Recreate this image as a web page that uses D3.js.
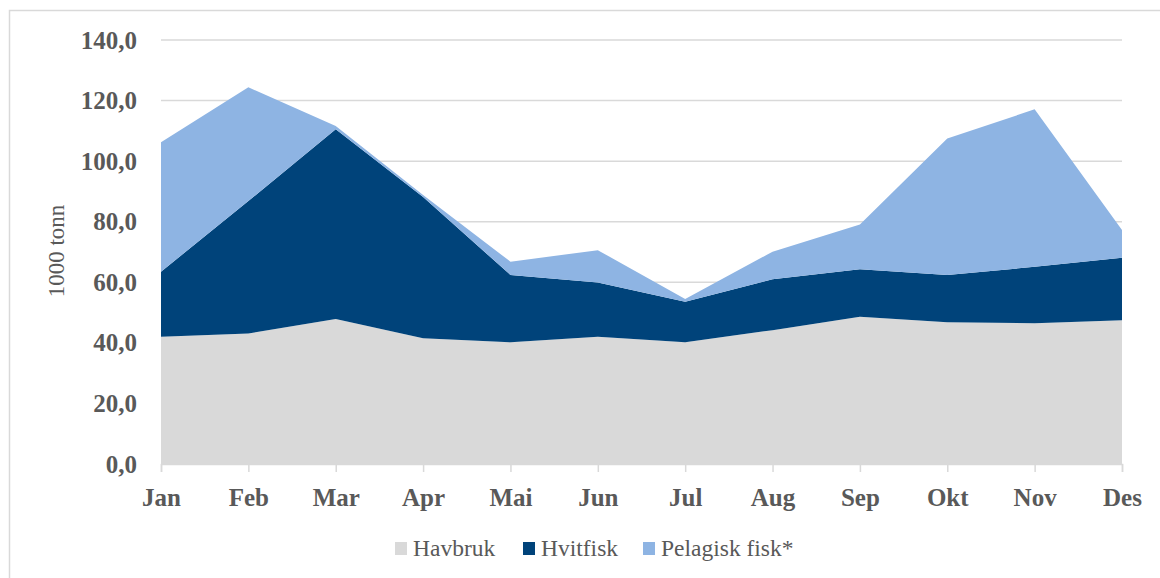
<!DOCTYPE html>
<html>
<head>
<meta charset="utf-8">
<script src="https://cdn.jsdelivr.net/npm/d3@7"></script>
<style>
body { margin: 0; background: #fff; }
</style>
</head>
<body>
<div id="main_div" style="width:1160px;height:578px"></div>
<script>
/** data **/
const months = ["Jan", "Feb", "Mar", "Apr", "Mai", "Jun", "Jul", "Aug", "Sep", "Okt", "Nov", "Des"];
const havbruk = [42.0, 43.1, 47.9, 41.5, 40.2, 42.0, 40.2, 44.2, 48.6, 46.8, 46.5, 47.5];
const hvitfisk = [21.5, 43.7, 62.6, 46.7, 22.2, 17.9, 13.4, 16.8, 15.7, 15.6, 18.6, 20.6];
const pelagisk = [42.7, 37.6, 1.1, 0.6, 4.4, 10.7, 0.9, 9.1, 14.8, 45.1, 52.0, 9.2];
const yTicks = [0, 20, 40, 60, 80, 100, 120, 140];
const seriesNames = ["Havbruk", "Hvitfisk", "Pelagisk fisk*"];
const colors = ["#d9d9d9", "#00437a", "#8eb4e3"];

const W = 1160, H = 578;
const plot = { left: 161, right: 1122, top: 40, bottom: 464 };
const serif = "'Liberation Serif', 'Times New Roman', serif";

let svg = d3.select("#main_div")
    .append("svg")
    .attr("width", W)
    .attr("height", H);

// chart border
svg.append("rect")
    .attr("x", 9.5).attr("y", 10.5)
    .attr("width", W + 10).attr("height", H)
    .attr("fill", "none")
    .attr("stroke", "#d9d9d9")
    .attr("stroke-width", 1.5);

let xScale = d3.scalePoint().domain(months).range([plot.left, plot.right]);
let yScale = d3.scaleLinear().domain([0, 140]).range([plot.bottom, plot.top]);

/** gridlines **/
svg.append("g")
    .selectAll("line")
    .data(yTicks.filter(d => d > 0))
    .enter().append("line")
    .attr("x1", plot.left).attr("x2", plot.right)
    .attr("y1", d => yScale(d)).attr("y2", d => yScale(d))
    .attr("stroke", "#d9d9d9")
    .attr("stroke-width", 1.5);

/** stacked areas **/
let table = months.map((m, i) => ({ month: m, Havbruk: havbruk[i], Hvitfisk: hvitfisk[i], "Pelagisk fisk*": pelagisk[i] }));
let stacked = d3.stack().keys(seriesNames)(table);

let area = d3.area()
    .x(d => xScale(d.data.month))
    .y0(d => yScale(d[0]))
    .y1(d => yScale(d[1]));

svg.append("g")
    .selectAll("path")
    .data(stacked)
    .enter().append("path")
    .attr("d", area)
    .attr("fill", (d, i) => colors[i]);

/** x axis **/
let xAxis = d3.axisBottom(xScale).tickSize(8).tickFormat(d => d);
let xg = svg.append("g")
    .attr("transform", "translate(0," + plot.bottom + ")")
    .call(xAxis);
xg.select(".domain").attr("stroke", "#d9d9d9").attr("stroke-width", 1.5);
xg.selectAll(".tick line").attr("stroke", "#d9d9d9").attr("stroke-width", 1.5);
xg.selectAll(".tick text")
    .attr("y", 24)
    .attr("dy", "0.71em")
    .attr("fill", "#595959")
    .style("font-family", serif)
    .style("font-weight", "bold")
    .style("font-size", "25px");

/** y axis labels **/
let yAxis = d3.axisLeft(yScale).tickValues(yTicks).tickSize(0).tickPadding(24)
    .tickFormat(d => d3.format(".1f")(d).replace(".", ","));
let yg = svg.append("g")
    .attr("transform", "translate(" + plot.left + ",0)")
    .call(yAxis);
yg.select(".domain").remove();
yg.selectAll(".tick text")
    .attr("fill", "#595959")
    .style("font-family", serif)
    .style("font-weight", "bold")
    .style("font-size", "25px");

svg.append("text")
    .text("1000 tonn")
    .attr("transform", "translate(64," + 251 + ") rotate(-90)")
    .attr("text-anchor", "middle")
    .attr("fill", "#595959")
    .style("font-family", serif)
    .style("font-size", "23px");

/** legend **/
const legendX = [395, 523, 643];
let legend = svg.append("g");
seriesNames.forEach((name, i) => {
    legend.append("rect")
        .attr("x", legendX[i]).attr("y", 542)
        .attr("width", 12).attr("height", 13)
        .attr("fill", colors[i]);
    legend.append("text")
        .text(name)
        .attr("x", legendX[i] + 18)
        .attr("y", 556)
        .attr("fill", "#595959")
        .style("font-family", serif)
        .style("font-size", "23.5px");
});
</script>
</body>
</html>
